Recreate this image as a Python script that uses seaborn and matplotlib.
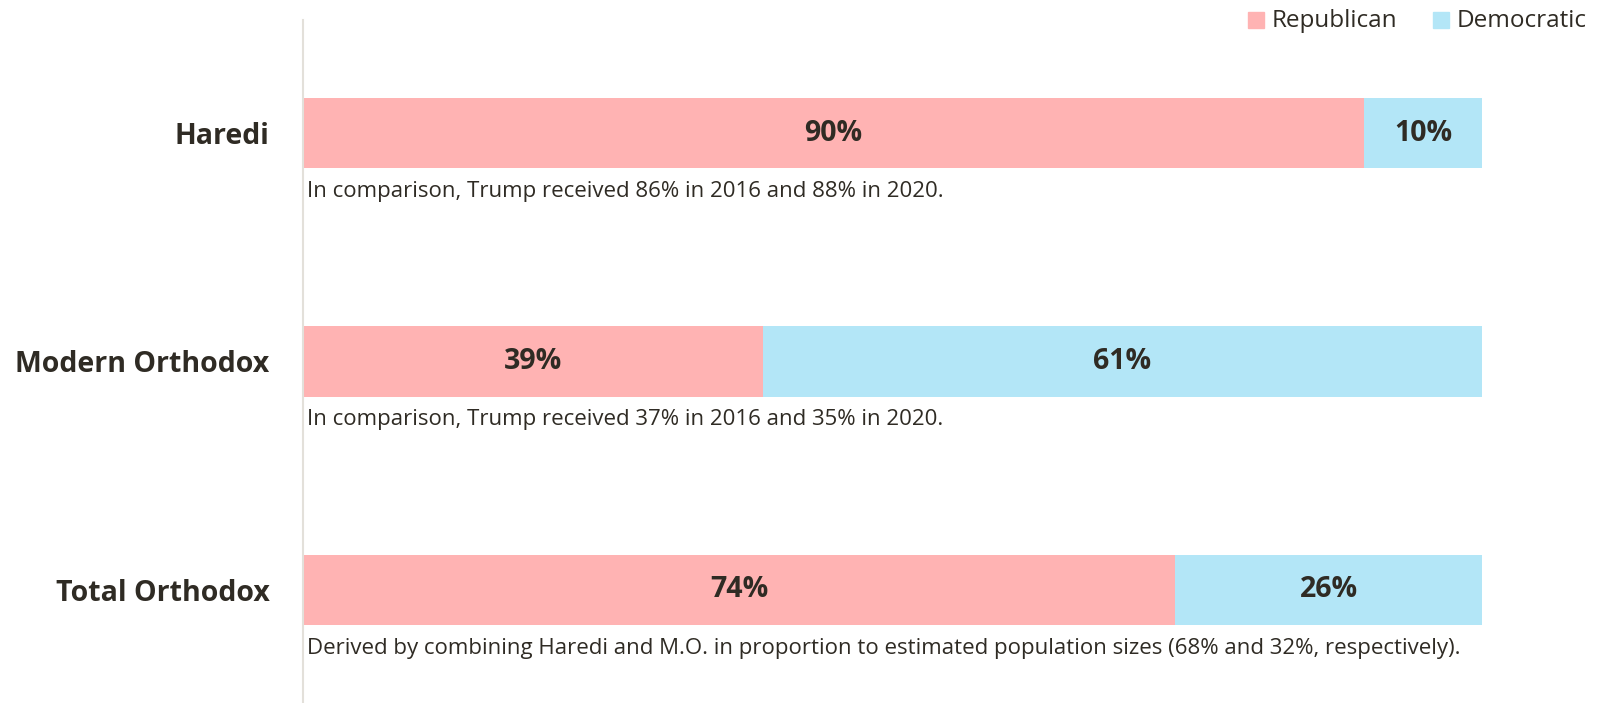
import matplotlib.pyplot as plt
import seaborn as sns
import pandas as pd
import numpy as np

groups = ['Haredi', 'Modern Orthodox', 'Total Orthodox']
republican = [90, 39, 74]
democratic = [10, 61, 26]
notes = [
    'In comparison, Trump received 86% in 2016 and 88% in 2020.',
    'In comparison, Trump received 37% in 2016 and 35% in 2020.',
    'Derived by combining Haredi and M.O. in proportion to estimated population sizes (68% and 32%, respectively).',
]

sns.set_style('white')
plt.rcParams['font.family'] = ['Open Sans', 'DejaVu Sans']

pink = '#ffb3b3'
blue = '#b3e6f7'
ink = '#2f2b24'

df = pd.DataFrame({'group': groups, 'rep': republican, 'dem': democratic})
df['total'] = df['rep'] + df['dem']

fig = plt.figure(figsize=(16, 7.03), dpi=100)
ax = fig.add_axes([303 / 1600, 0, (1482 - 303) / 1600, 1 - 20 / 703])

# blue full-length bar underneath, pink republican share on top
sns.barplot(data=df, x='total', y='group', orient='h', color=blue, width=0.31,
            saturation=1, linewidth=0, ax=ax)
sns.barplot(data=df, x='rep', y='group', orient='h', color=pink, width=0.31,
            saturation=1, linewidth=0, ax=ax)

ax.set_xlim(0, 100)
ax.set_ylim(2.495, -0.495)
ax.set_xlabel('')
ax.set_ylabel('')
ax.set_xticks([])
ax.tick_params(axis='y', length=0, pad=24)
ax.set_yticks(range(len(groups)))
ax.set_yticklabels(groups, fontsize=20.5, fontweight='bold', color=ink)
for s in ['top', 'right', 'bottom']:
    ax.spines[s].set_visible(False)
ax.spines['left'].set_color('#e3e0da')
ax.spines['left'].set_linewidth(1.5)

for i, (r, d) in enumerate(zip(republican, democratic)):
    ax.text(r / 2, i, f'{r}%', ha='center', va='center', fontsize=20.5,
            fontweight='bold', color=ink)
    ax.text(r + d / 2, i, f'{d}%', ha='center', va='center', fontsize=20.5,
            fontweight='bold', color=ink)
    ax.text(0.3, i + 0.255, notes[i], ha='left', va='center', fontsize=16,
            color=ink)

# legend
fig.patches.append(plt.Rectangle((1248 / 1600, 1 - 28 / 703), 16 / 1600, 16 / 703,
                                 transform=fig.transFigure, color=pink))
fig.text(1272 / 1600, 1 - 21 / 703, 'Republican', fontsize=17.5, color=ink,
         ha='left', va='center')
fig.patches.append(plt.Rectangle((1433 / 1600, 1 - 28 / 703), 16 / 1600, 16 / 703,
                                 transform=fig.transFigure, color=blue))
fig.text(1457 / 1600, 1 - 21 / 703, 'Democratic', fontsize=17.5, color=ink,
         ha='left', va='center')

fig.savefig('out.png', dpi=100)
